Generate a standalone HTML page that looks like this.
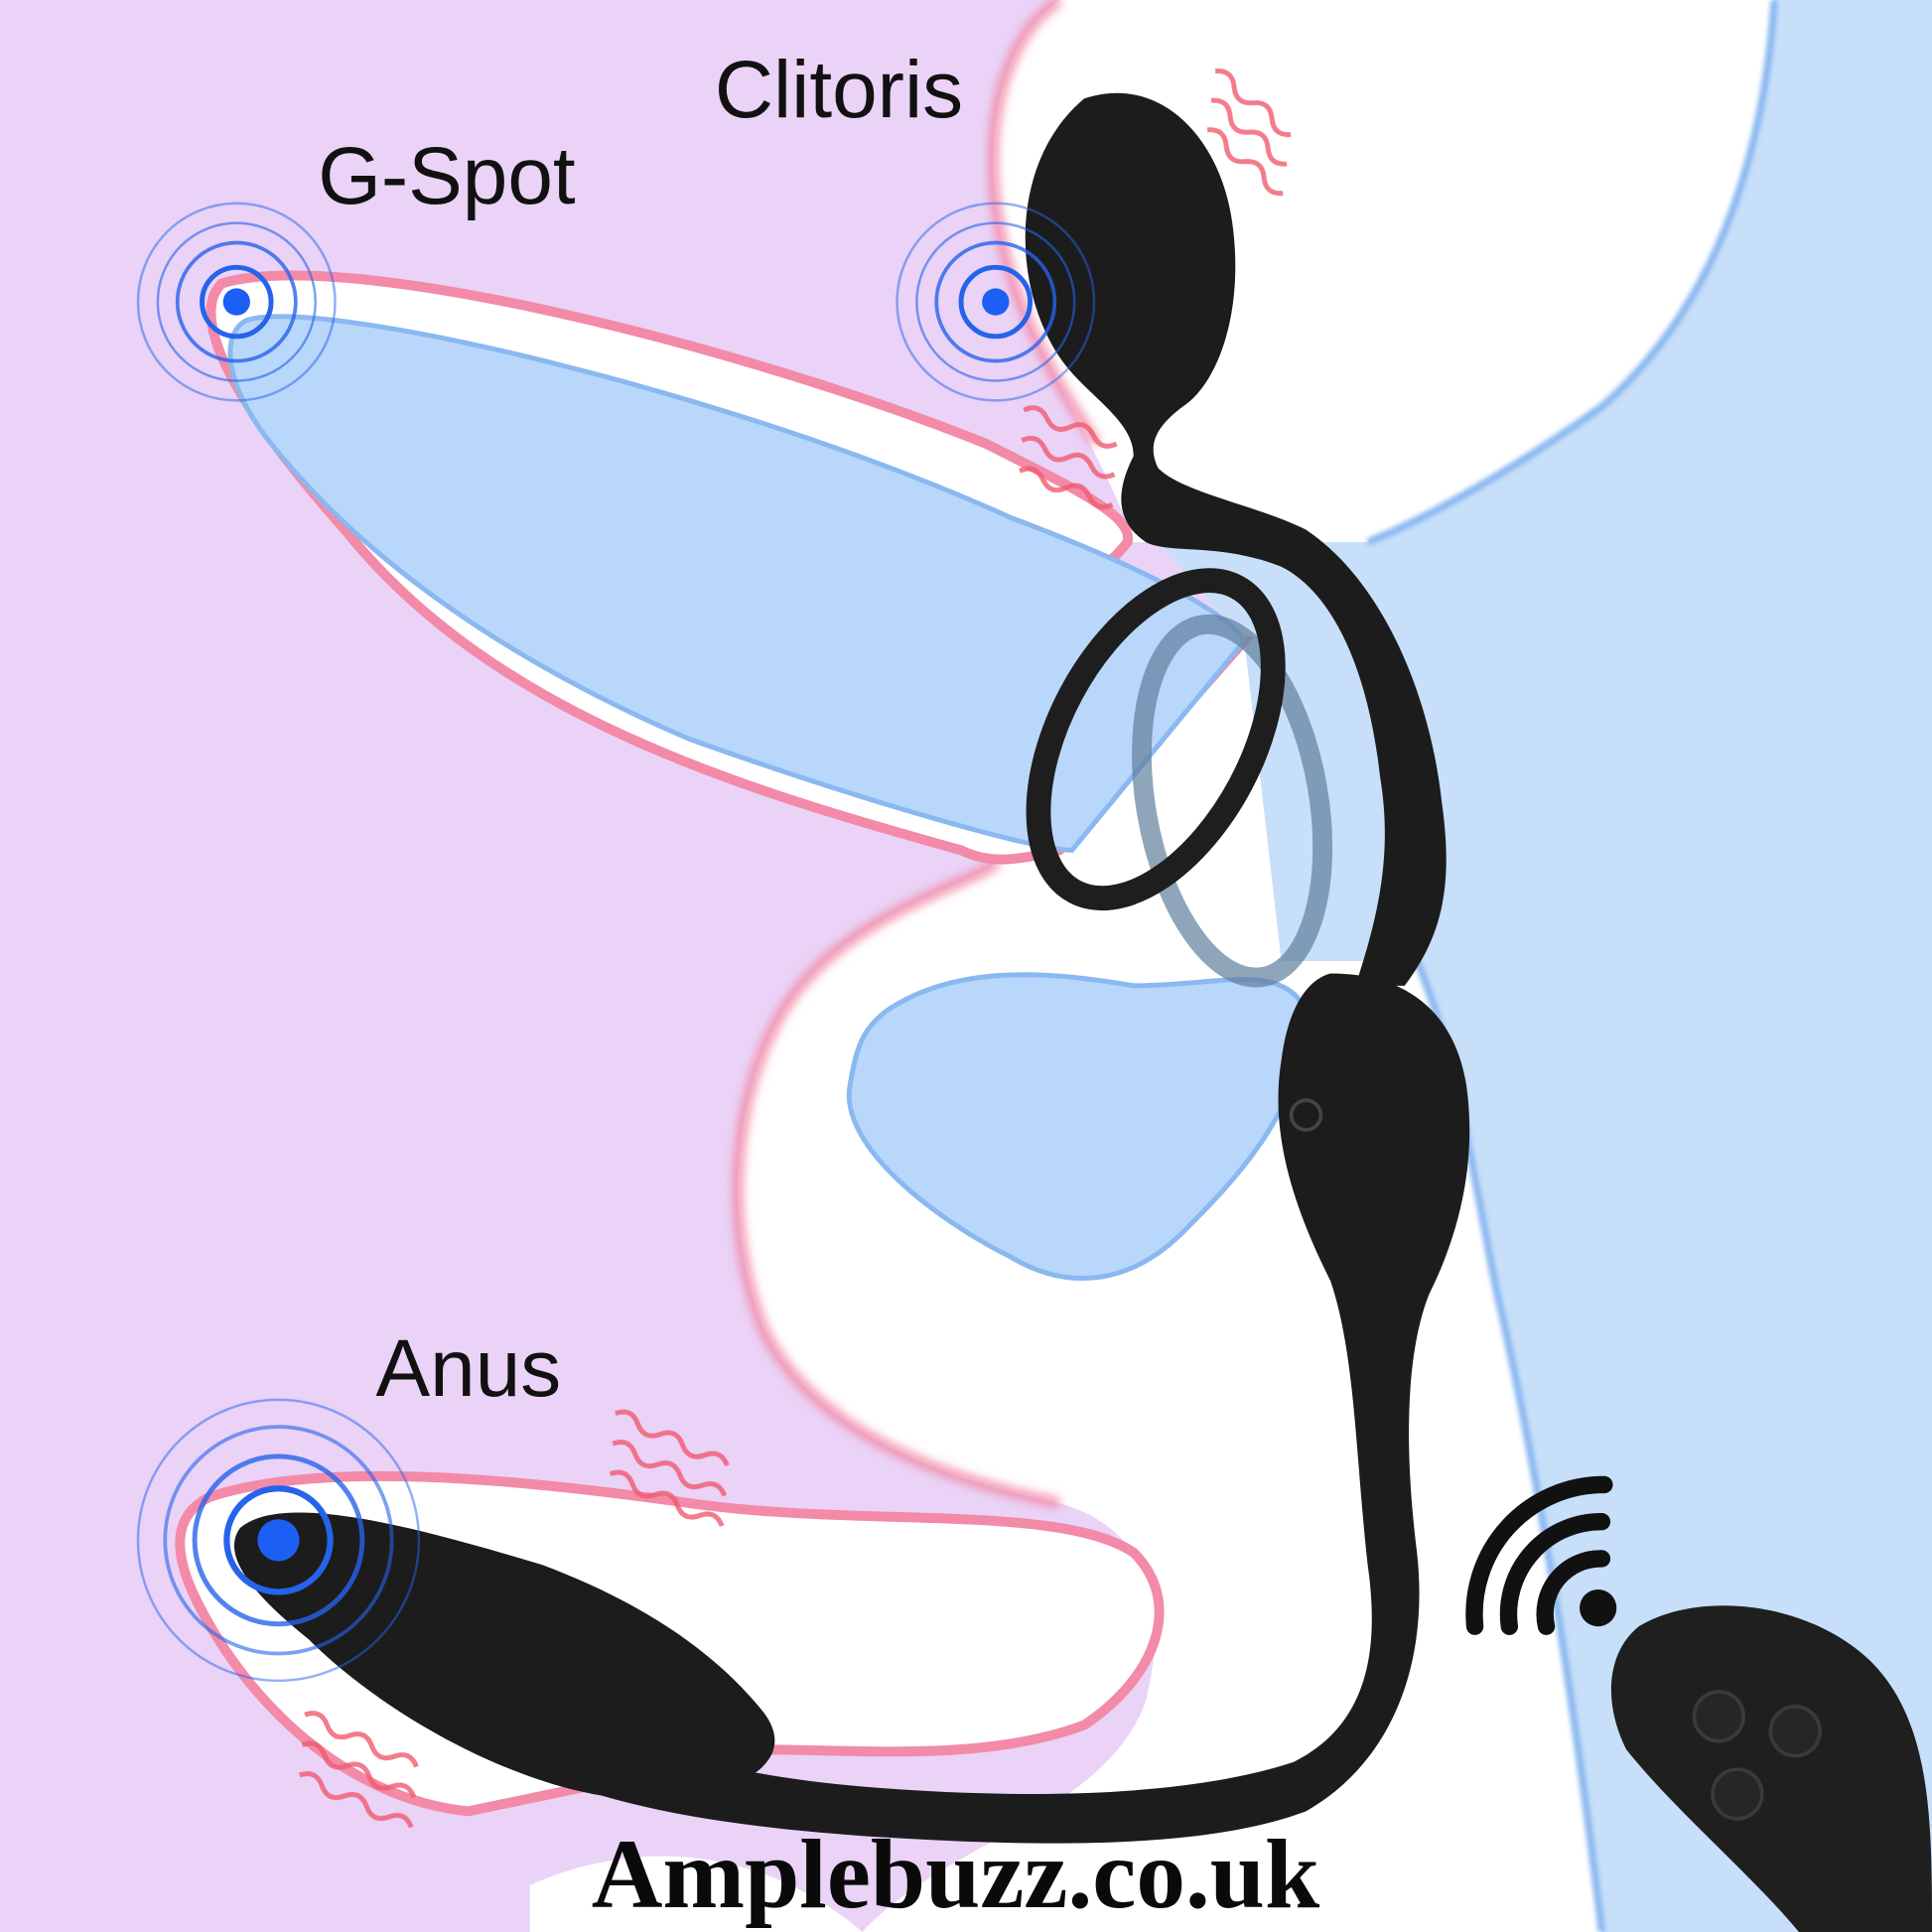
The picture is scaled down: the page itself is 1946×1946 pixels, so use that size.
<!DOCTYPE html>
<html><head><meta charset="utf-8"><style>
html,body{margin:0;padding:0;background:#ead3f7;}
svg{display:block;}
</style></head><body>
<svg width="1946" height="1946" viewBox="0 0 1568 1568" xmlns="http://www.w3.org/2000/svg">
<defs>
<filter id="glow" x="-10%" y="-10%" width="120%" height="120%"><feGaussianBlur stdDeviation="4"/></filter>
<filter id="soft"><feGaussianBlur stdDeviation="2"/></filter>
</defs>
<rect width="1568" height="1568" fill="#ead3f7"/>
<!-- top white blob -->
<path d="M860,0 L1440,0 C1430,150 1380,260 1300,330 C1230,380 1160,420 1110,440 L920,440 C900,380 860,320 830,250 C790,150 800,40 860,0 Z" fill="#ffffff"/>
<path d="M860,0 C800,40 790,150 830,250 C850,300 870,330 890,360" fill="none" stroke="#f28aa8" stroke-width="8" filter="url(#glow)"/>
<!-- central white region -->
<path d="M810,700 L870,690 L1010,520 L1040,780 L1150,780 C1180,850 1195,950 1215,1050 C1250,1200 1280,1400 1300,1568 L700,1568 C760,1500 900,1470 930,1380 C950,1300 930,1240 860,1220 C760,1200 660,1160 620,1080 C580,980 600,860 650,800 C700,740 780,720 810,700 Z" fill="#ffffff"/>
<path d="M810,700 C780,720 700,740 650,800 C600,860 580,980 620,1080 C660,1160 760,1200 860,1220" fill="none" stroke="#f28aa8" stroke-width="8" filter="url(#glow)"/>
<!-- right blue region -->
<path d="M940,440 L1110,440 C1160,420 1230,380 1300,330 C1380,260 1430,150 1440,0 L1568,0 L1568,1568 L1300,1568 C1280,1400 1250,1200 1215,1050 C1195,950 1180,850 1150,780 L1040,780 L1010,520 Z" fill="#c7dff9"/>
<path d="M1110,440 C1160,420 1230,380 1300,330 C1380,260 1430,150 1440,0" fill="none" stroke="#8ab8f0" stroke-width="6" filter="url(#soft)"/>
<path d="M1150,780 C1180,850 1195,950 1215,1050 C1250,1200 1280,1400 1300,1568" fill="none" stroke="#8ab8f0" stroke-width="6" filter="url(#soft)"/>
<!-- lower blue blob -->
<path d="M720,820 C780,780 860,790 920,800 C990,800 1040,780 1060,820 C1060,900 1000,960 960,1000 C920,1040 870,1050 820,1020 C760,990 680,930 690,880 C695,850 700,835 720,820 Z" fill="#b9d7fb" stroke="#8ab8f0" stroke-width="4"/>
<!-- G-spot finger pink outline -->
<path d="M180,230 C280,200 600,280 800,360 C880,400 920,420 915,440 C900,460 870,480 840,500 L1010,520 L860,690 C820,700 800,700 780,690 C600,640 400,580 280,430 C200,340 150,260 180,230 Z" fill="#ffffff" stroke="#f28aa8" stroke-width="8"/>
<path d="M200,260 C260,240 600,320 820,420 C900,450 990,490 1010,520 L870,690 C840,690 700,650 560,600 C420,540 300,460 220,360 C180,310 180,270 200,260 Z" fill="#b9d7fb" stroke="#8ab8f0" stroke-width="4"/>
<!-- anus area pink outline -->
<path d="M170,1215 C260,1185 420,1200 560,1220 C700,1240 860,1220 920,1260 C960,1300 940,1360 880,1400 C800,1430 700,1420 620,1420 L380,1470 C280,1460 200,1380 160,1300 C140,1260 140,1230 170,1215 Z" fill="#ffffff" stroke="#f28aa8" stroke-width="8"/>
<path d="M430,1530 C520,1490 620,1500 700,1568 L430,1568 Z" fill="#ffffff"/>

<!-- Toy: clitoral head + arm -->
<path d="M880,80 C940,60 990,110 1000,180 C1010,250 990,310 960,330 C940,345 930,360 940,380 C960,400 1020,410 1060,430 C1120,470 1160,560 1170,650 C1180,720 1170,760 1140,800 L1100,800 C1120,740 1130,690 1120,630 C1110,540 1080,480 1040,460 C990,440 950,450 930,440 C900,420 910,390 920,370 C920,340 880,320 860,290 C820,230 820,130 880,80 Z" fill="#1c1c1c"/>
<!-- rings -->
<ellipse cx="1000" cy="650" rx="70" ry="145" transform="rotate(-10 1000 650)" fill="none" stroke="#5f7f9c" stroke-width="16" opacity="0.7"/>
<ellipse cx="938" cy="600" rx="78" ry="140" transform="rotate(28 938 600)" fill="none" stroke="#1e1e1e" stroke-width="20"/>
<!-- body -->
<path d="M1080,790 C1140,790 1180,820 1190,880 C1200,950 1180,1010 1160,1050 C1140,1100 1140,1180 1150,1260 C1160,1350 1130,1430 1060,1470 C980,1500 850,1500 700,1490 C560,1480 460,1460 380,1410 L400,1360 C480,1410 580,1440 700,1450 C820,1460 960,1460 1050,1430 C1110,1400 1120,1340 1110,1270 C1100,1180 1100,1100 1080,1040 C1050,980 1030,920 1040,860 C1045,820 1060,795 1080,790 Z" fill="#1c1c1c"/>
<circle cx="1060" cy="905" r="12" fill="none" stroke="#444" stroke-width="3"/>
<!-- anal plug -->
<path d="M195,1240 C230,1210 340,1240 440,1270 C520,1300 580,1340 620,1390 C650,1430 600,1460 520,1460 C440,1460 320,1400 250,1330 C200,1290 180,1260 195,1240 Z" fill="#1c1c1c"/>
<!-- remote -->
<path d="M1330,1320 C1380,1290 1470,1300 1520,1350 C1568,1400 1568,1480 1568,1568 L1460,1568 C1420,1520 1360,1470 1320,1420 C1300,1380 1305,1340 1330,1320 Z" fill="#1f1f1f"/>
<circle cx="1395" cy="1393" r="20" fill="#262626" stroke="#3a3a3a" stroke-width="3"/>
<circle cx="1457" cy="1405" r="20" fill="#262626" stroke="#3a3a3a" stroke-width="3"/>
<circle cx="1410" cy="1456" r="20" fill="#262626" stroke="#3a3a3a" stroke-width="3"/>
<!-- wifi -->
<circle cx="1297" cy="1305" r="15" fill="#111"/>
<path d="M1255,1320 A45,45 0 0 1 1300,1265" fill="none" stroke="#111" stroke-width="14" stroke-linecap="round"/>
<path d="M1225,1320 A75,75 0 0 1 1300,1235" fill="none" stroke="#111" stroke-width="14" stroke-linecap="round"/>
<path d="M1197,1320 A105,105 0 0 1 1302,1205" fill="none" stroke="#111" stroke-width="14" stroke-linecap="round"/>

<!-- target rings -->
<g fill="none" stroke="#2563eb">
<circle cx="192" cy="245" r="28" stroke-width="4"/><circle cx="192" cy="245" r="48" stroke-width="3" opacity="0.8"/><circle cx="192" cy="245" r="64" stroke-width="2" opacity="0.6"/><circle cx="192" cy="245" r="80" stroke-width="2" opacity="0.5"/>
<circle cx="808" cy="245" r="28" stroke-width="4"/><circle cx="808" cy="245" r="48" stroke-width="3" opacity="0.8"/><circle cx="808" cy="245" r="64" stroke-width="2" opacity="0.6"/><circle cx="808" cy="245" r="80" stroke-width="2" opacity="0.5"/>
<circle cx="226" cy="1250" r="42" stroke-width="5"/><circle cx="226" cy="1250" r="68" stroke-width="4" opacity="0.8"/><circle cx="226" cy="1250" r="92" stroke-width="3" opacity="0.6"/><circle cx="226" cy="1250" r="114" stroke-width="2" opacity="0.5"/>
</g>
<circle cx="192" cy="245" r="11" fill="#1d5ff5"/>
<circle cx="808" cy="245" r="11" fill="#1d5ff5"/>
<circle cx="226" cy="1250" r="17" fill="#1d5ff5"/>

<!-- vibration waves -->
<g fill="none" stroke="#f05a6e" stroke-width="4" opacity="0.8">
<path d="M960,70 q10,-10 20,0 t20,0 t20,0 t20,0" transform="rotate(40 990 100)"/>
<path d="M960,95 q10,-10 20,0 t20,0 t20,0 t20,0" transform="rotate(40 990 120)"/>
<path d="M960,120 q10,-10 20,0 t20,0 t20,0 t20,0" transform="rotate(40 990 140)"/>
<path d="M820,345 q10,-10 20,0 t20,0 t20,0 t20,0" transform="rotate(20 860 370)"/>
<path d="M820,370 q10,-10 20,0 t20,0 t20,0 t20,0" transform="rotate(20 860 390)"/>
<path d="M820,395 q10,-10 20,0 t20,0 t20,0 t20,0" transform="rotate(20 860 410)"/>
<path d="M480,1165 q10,-10 20,0 t20,0 t20,0 t20,0 t20,0" transform="rotate(25 530 1200)"/>
<path d="M480,1190 q10,-10 20,0 t20,0 t20,0 t20,0 t20,0" transform="rotate(25 530 1220)"/>
<path d="M480,1215 q10,-10 20,0 t20,0 t20,0 t20,0 t20,0" transform="rotate(25 530 1240)"/>
<path d="M230,1410 q10,-10 20,0 t20,0 t20,0 t20,0 t20,0" transform="rotate(25 280 1440)"/>
<path d="M230,1435 q10,-10 20,0 t20,0 t20,0 t20,0 t20,0" transform="rotate(25 280 1460)"/>
<path d="M230,1460 q10,-10 20,0 t20,0 t20,0 t20,0 t20,0" transform="rotate(25 280 1480)"/>
</g>

<!-- labels -->
<g font-family="Liberation Sans, sans-serif" font-size="66" fill="#111">
<text x="580" y="95">Clitoris</text>
<text x="258" y="165">G-Spot</text>
<text x="305" y="1133">Anus</text>
</g>
<text x="480" y="1548" font-family="Liberation Serif, serif" font-weight="bold" font-size="80" fill="#0a0a0a">Amplebuzz.co.uk</text>
</svg>
</body></html>
